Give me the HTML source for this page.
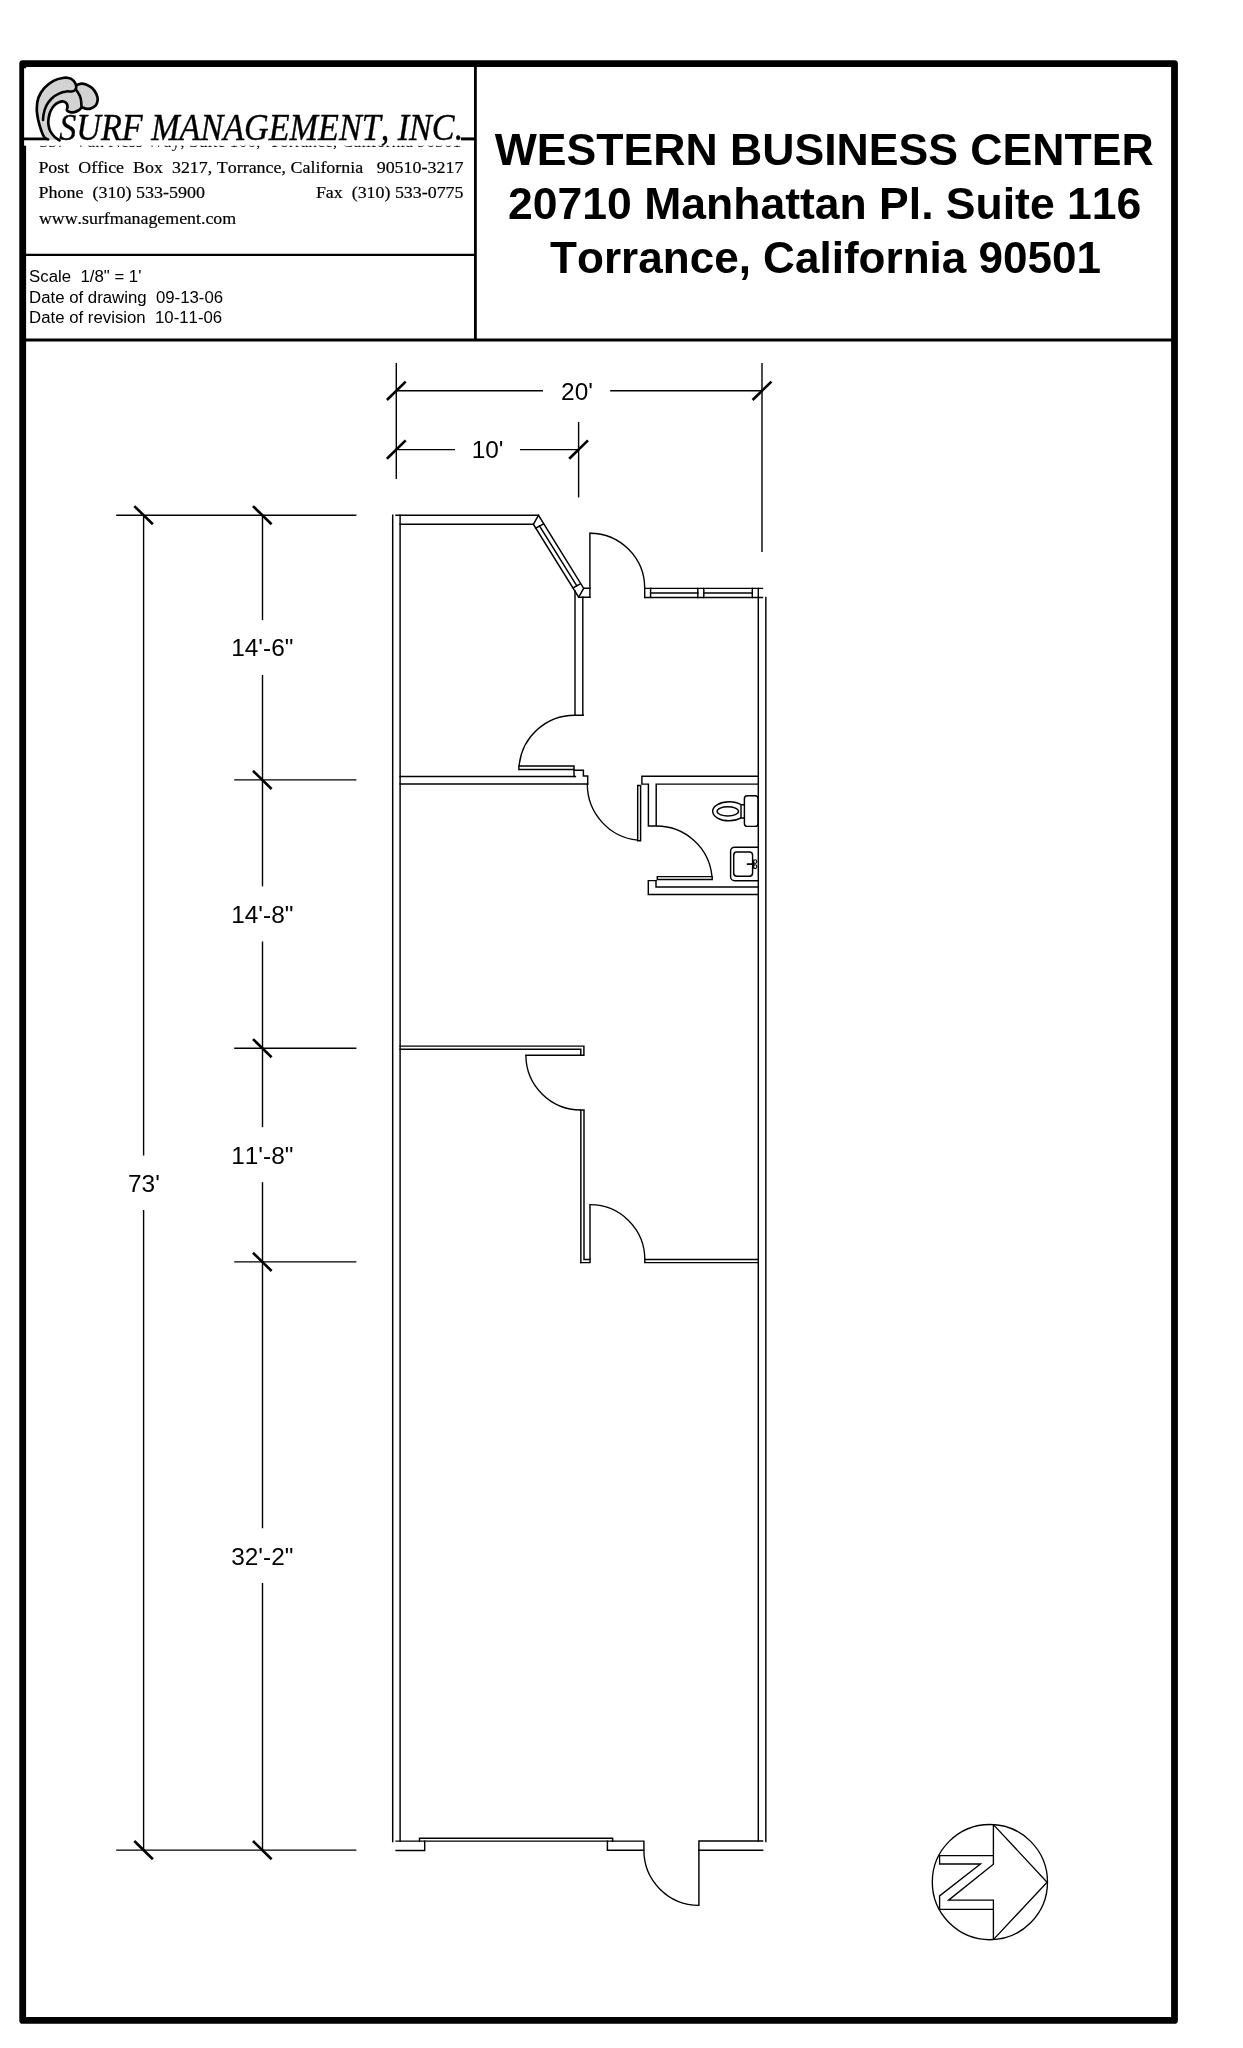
<!DOCTYPE html>
<html>
<head>
<meta charset="utf-8">
<title>Western Business Center - Suite 116</title>
<style>
html,body{margin:0;padding:0;background:#fff;}
body{width:1243px;height:2048px;overflow:hidden;font-family:"Liberation Sans",sans-serif;}
svg{display:block;position:absolute;left:0;top:0;will-change:transform;}
text{font-kerning:none;}
.sans{font-family:"Liberation Sans",sans-serif;fill:#000;}
.serif{font-family:"Liberation Serif",serif;fill:#000;}
.w{fill:none;stroke:#000;stroke-width:1.45;stroke-linecap:square;stroke-linejoin:miter;}
.a{fill:none;stroke:#000;stroke-width:1.35;stroke-linecap:butt;}
.f{fill:none;stroke:#000;stroke-width:1.45;stroke-linecap:butt;stroke-linejoin:round;}
.f2{fill:none;stroke:#000;stroke-width:1.7;stroke-linecap:round;}
.f3{fill:none;stroke:#000;stroke-width:1.1;}
.n{fill:none;stroke:#000;stroke-width:1.35;stroke-linejoin:miter;}
.d{fill:none;stroke:#000;stroke-width:1.4;stroke-linecap:butt;}
.t{fill:none;stroke:#000;stroke-width:2.6;stroke-linecap:butt;}
.dim{font-family:"Liberation Sans",sans-serif;font-size:24.4px;fill:#000;text-anchor:middle;}
</style>
</head>
<body>
<svg width="1243" height="2048" viewBox="0 0 1243 2048">
<rect x="0" y="0" width="1243" height="2048" fill="#fff"/>

<!-- ===== OUTER BORDER ===== -->
<rect x="22.7" y="63.6" width="1151.8" height="1956.8" fill="none" stroke="#000" stroke-width="6.8" stroke-linejoin="round"/>

<!-- ===== HEADER ===== -->
<g id="header">
<!-- clipped address line (hidden under logo image) -->
<text class="serif" x="39.4" y="147.4" font-size="16.5" xml:space="preserve" textLength="422" lengthAdjust="spacingAndGlyphs">357  Van Ness Way, Suite 100,  Torrance, California 90501</text>
<rect x="24.1" y="68.3" width="450" height="77.4" fill="#fff"/>
<!-- logo placeholder -->
<g id="logo">
<path d="M48.1 139.4C47.5 139.1 45.6 139.1 44.5 137.6C43.3 136.1 42.2 133.4 41.2 130.3C40.1 127.3 38.9 123.1 38.1 119.5C37.4 115.9 36.7 112.2 36.8 108.6C36.8 105.0 37.2 101.2 38.4 97.8C39.7 94.3 41.7 90.9 44.2 88.1C46.7 85.3 50.5 82.6 53.5 80.9C56.6 79.2 60.1 78.4 62.6 78.0C65.1 77.5 66.9 77.6 68.6 78.0C70.3 78.3 71.7 79.1 72.8 80.0C73.9 80.8 74.7 82.3 75.3 83.3C75.8 84.2 76.0 85.2 76.1 85.6C76.8 85.3 78.4 83.9 80.1 83.8C81.8 83.6 84.1 83.8 86.1 84.5C88.1 85.2 90.4 86.5 92.1 88.1C93.9 89.7 95.4 92.1 96.4 94.1C97.3 96.1 97.9 98.3 97.7 100.2C97.5 102.1 96.7 104.2 95.5 105.6C94.2 107.0 92.0 108.1 90.3 108.6C88.7 109.1 86.9 108.8 85.5 108.6C84.1 108.4 82.4 107.5 81.8 107.3C81.2 107.8 79.7 109.7 78.3 110.5C76.9 111.4 74.9 112.1 73.4 112.4C72.0 112.6 70.6 112.3 69.5 111.9C68.4 111.6 67.3 111.2 66.9 110.3C66.6 109.5 67.6 107.9 67.5 106.8C67.5 105.7 67.4 104.6 66.7 103.7C66.0 102.8 64.8 101.7 63.5 101.5C62.2 101.3 60.5 101.6 59.0 102.3C57.4 103.0 55.5 104.2 54.1 105.7C52.7 107.2 51.4 109.2 50.5 111.2C49.6 113.1 49.1 115.5 48.7 117.7C48.4 119.9 48.1 122.0 48.4 124.3C48.7 126.6 49.4 129.3 50.5 131.5C51.7 133.8 53.8 136.1 55.3 137.6C56.9 139.0 58.9 139.8 59.6 140.3Z" fill="#d3d3d3" stroke="none"/>
<path d="M48.1 139.4C47.5 139.1 45.6 139.1 44.5 137.6C43.3 136.1 42.2 133.4 41.2 130.3C40.1 127.3 38.9 123.1 38.1 119.5C37.4 115.9 36.7 112.2 36.8 108.6C36.8 105.0 37.2 101.2 38.4 97.8C39.7 94.3 41.7 90.9 44.2 88.1C46.7 85.3 50.5 82.6 53.5 80.9C56.6 79.2 60.1 78.4 62.6 78.0C65.1 77.5 66.9 77.6 68.6 78.0C70.3 78.3 71.7 79.1 72.8 80.0C73.9 80.8 74.7 82.3 75.3 83.3C75.8 84.2 76.0 85.2 76.1 85.6C76.8 85.3 78.4 83.9 80.1 83.8C81.8 83.6 84.1 83.8 86.1 84.5C88.1 85.2 90.4 86.5 92.1 88.1C93.9 89.7 95.4 92.1 96.4 94.1C97.3 96.1 97.9 98.3 97.7 100.2C97.5 102.1 96.7 104.2 95.5 105.6C94.2 107.0 92.0 108.1 90.3 108.6C88.7 109.1 86.9 108.8 85.5 108.6C84.1 108.4 82.4 107.5 81.8 107.3C81.2 107.8 79.7 109.7 78.3 110.5C76.9 111.4 74.9 112.1 73.4 112.4C72.0 112.6 70.6 112.3 69.5 111.9C68.4 111.6 67.3 111.2 66.9 110.3C66.6 109.5 67.6 107.9 67.5 106.8C67.5 105.7 67.4 104.6 66.7 103.7C66.0 102.8 64.8 101.7 63.5 101.5C62.2 101.3 60.5 101.6 59.0 102.3C57.4 103.0 55.5 104.2 54.1 105.7C52.7 107.2 51.4 109.2 50.5 111.2C49.6 113.1 49.1 115.5 48.7 117.7C48.4 119.9 48.1 122.0 48.4 124.3C48.7 126.6 49.4 129.3 50.5 131.5C51.7 133.8 53.8 136.1 55.3 137.6C56.9 139.0 58.9 139.8 59.6 140.3" fill="none" stroke="#000" stroke-width="2.7" stroke-linejoin="round" stroke-linecap="round"/>
<path d="M76.1 85.6C76.1 86.0 76.3 87.3 76.1 88.1C75.9 88.9 75.7 89.7 75.0 90.3C74.2 90.8 73.1 91.3 71.6 91.5C70.2 91.7 68.3 91.1 66.2 91.5C64.1 91.8 61.4 92.5 59.0 93.7C56.5 94.8 53.8 96.5 51.7 98.5C49.6 100.5 47.7 103.1 46.4 105.6C45.1 108.1 44.3 111.0 43.8 113.4C43.2 115.9 43.1 119.0 43.0 120.1" fill="none" stroke="#000" stroke-width="2.5" stroke-linecap="round" stroke-linejoin="round"/>
<path d="M75.7 89.2C76.1 89.7 77.0 90.9 77.7 92.0C78.3 93.2 79.2 94.6 79.8 95.9C80.3 97.3 80.8 98.7 81.0 100.2C81.3 101.7 81.3 103.8 81.4 105.0C81.5 106.2 81.7 106.9 81.8 107.3" fill="none" stroke="#000" stroke-width="2.6" stroke-linecap="round"/>
<line x1="24" y1="138.9" x2="46.5" y2="138.9" stroke="#000" stroke-width="2.8"/>
<line x1="461" y1="138.9" x2="475" y2="138.9" stroke="#000" stroke-width="3"/>
<text class="serif" x="59.2" y="139.8" font-size="37" font-style="italic" textLength="404" lengthAdjust="spacingAndGlyphs" stroke="#000" stroke-width="0.35">SURF MANAGEMENT, INC.</text>
</g>
<text class="serif" x="38.4" y="172.75" font-size="16.5" xml:space="preserve" textLength="425" lengthAdjust="spacingAndGlyphs" stroke="#000" stroke-width="0.2">Post  Office  Box  3217, Torrance, California   90510-3217</text>
<text class="serif" x="38.4" y="198.3" font-size="16.5" xml:space="preserve" textLength="166.5" lengthAdjust="spacingAndGlyphs" stroke="#000" stroke-width="0.2">Phone  (310) 533-5900</text>
<text class="serif" x="315.9" y="198.3" font-size="16.5" xml:space="preserve" textLength="147.6" lengthAdjust="spacingAndGlyphs" stroke="#000" stroke-width="0.2">Fax  (310) 533-0775</text>
<text class="serif" x="38.9" y="224.2" font-size="16.5" textLength="197.3" lengthAdjust="spacingAndGlyphs" stroke="#000" stroke-width="0.2">www.surfmanagement.com</text>

<text class="sans" x="29.1" y="282.4" font-size="15.6" xml:space="preserve" textLength="112.3" lengthAdjust="spacingAndGlyphs">Scale  1/8" = 1'</text>
<text class="sans" x="29.1" y="302.8" font-size="15.6" xml:space="preserve" textLength="194" lengthAdjust="spacingAndGlyphs">Date of drawing  09-13-06</text>
<text class="sans" x="29.1" y="323.1" font-size="15.6" xml:space="preserve" textLength="193.1" lengthAdjust="spacingAndGlyphs">Date of revision  10-11-06</text>

<text class="sans" x="824.2" y="164.6" font-size="44.5" font-weight="bold" text-anchor="middle" textLength="658.8" lengthAdjust="spacingAndGlyphs">WESTERN BUSINESS CENTER</text>
<text class="sans" x="824.7" y="219.3" font-size="44.5" font-weight="bold" text-anchor="middle">20710 Manhattan Pl. Suite 116</text>
<text class="sans" x="825.6" y="273.3" font-size="44.5" font-weight="bold" text-anchor="middle" textLength="551" lengthAdjust="spacingAndGlyphs">Torrance, California 90501</text>

<line x1="475.4" y1="66" x2="475.4" y2="340" stroke="#000" stroke-width="2.8"/>
<line x1="24" y1="254.9" x2="475.4" y2="254.9" stroke="#000" stroke-width="2.3"/>
<line x1="24" y1="340" x2="1172" y2="340" stroke="#000" stroke-width="3.2"/>
</g>


<!-- ===== DIMENSIONS ===== -->
<g id="dims">
<line class="d" x1="396.3" y1="363" x2="396.3" y2="479"/>
<line class="d" x1="578.6" y1="422" x2="578.6" y2="497.4"/>
<line class="d" x1="762" y1="363" x2="762" y2="552"/>
<line class="d" x1="396.3" y1="390.8" x2="543" y2="390.8"/>
<line class="d" x1="610.2" y1="390.8" x2="762" y2="390.8"/>
<line class="d" x1="396.3" y1="449.6" x2="455" y2="449.6"/>
<line class="d" x1="520" y1="449.6" x2="578.6" y2="449.6"/>
<line class="t" x1="386.9" y1="400.0" x2="405.7" y2="381.6"/>
<line class="t" x1="752.6" y1="400.0" x2="771.4" y2="381.6"/>
<line class="t" x1="386.9" y1="458.8" x2="405.7" y2="440.4"/>
<line class="t" x1="569.2" y1="458.8" x2="588.0" y2="440.4"/>
<text class="dim" x="577" y="399.5">20'</text>
<text class="dim" x="487.6" y="458.1">10'</text>
<line class="d" x1="116.2" y1="515.2" x2="356.4" y2="515.2"/>
<line class="d" x1="116.2" y1="1850.1" x2="356.4" y2="1850.1"/>
<line class="d" x1="234.2" y1="779.9" x2="356.4" y2="779.9"/>
<line class="d" x1="234.2" y1="1048.2" x2="356.4" y2="1048.2"/>
<line class="d" x1="234.2" y1="1261.9" x2="356.4" y2="1261.9"/>
<line class="d" x1="143.6" y1="515.2" x2="143.6" y2="1155.4"/>
<line class="d" x1="143.6" y1="1210" x2="143.6" y2="1850.1"/>
<line class="d" x1="262.5" y1="515.2" x2="262.5" y2="620.2"/>
<line class="d" x1="262.5" y1="675" x2="262.5" y2="779.9"/>
<line class="d" x1="262.5" y1="779.9" x2="262.5" y2="886.4"/>
<line class="d" x1="262.5" y1="941.5" x2="262.5" y2="1048.2"/>
<line class="d" x1="262.5" y1="1048.2" x2="262.5" y2="1127.2"/>
<line class="d" x1="262.5" y1="1182.1" x2="262.5" y2="1261.9"/>
<line class="d" x1="262.5" y1="1261.9" x2="262.5" y2="1528.2"/>
<line class="d" x1="262.5" y1="1583" x2="262.5" y2="1850.1"/>
<line class="t" x1="134.3" y1="506.1" x2="152.9" y2="524.3"/>
<line class="t" x1="253.0" y1="506.1" x2="271.6" y2="524.3"/>
<line class="t" x1="253.0" y1="770.8" x2="271.6" y2="789.0"/>
<line class="t" x1="253.0" y1="1039.1" x2="271.6" y2="1057.3"/>
<line class="t" x1="253.0" y1="1252.8" x2="271.6" y2="1271.0"/>
<line class="t" x1="134.3" y1="1841.0" x2="152.9" y2="1859.2"/>
<line class="t" x1="253.0" y1="1841.0" x2="271.6" y2="1859.2"/>
<text class="dim" x="262.3" y="656.1">14'-6"</text>
<text class="dim" x="262.3" y="922.8">14'-8"</text>
<text class="dim" x="262.3" y="1163.6">11'-8"</text>
<text class="dim" x="262.3" y="1564.8">32'-2"</text>
<text class="dim" x="143.9" y="1191.5">73'</text>
</g>

<!-- ===== PLAN ===== -->
<g id="plan">
<path class="w" d="M392.7 515.3V1841.5"/>
<path class="w" d="M400.1 515.3V1841.1"/>
<path class="w" d="M396 515.3H538.5L583.65 588.3H589.9"/>
<path class="w" d="M400.1 524.3H533.4L578.7 597.2H589.9"/>
<path class="w" d="M538.5 515.3L533.4 524.3"/>
<path class="w" d="M583.65 588.3L578.7 597.2"/>
<path class="w" d="M535.6 528.2L543.5 524.0"/>
<path class="w" d="M573.5 587.7L580.1 584.0"/>
<path class="w" d="M539.5 526.0L576.6 585.6"/>
<path class="w" d="M575 591V715.3H583.2"/>
<path class="w" d="M582.8 597.2V715.3"/>
<path class="w" d="M589.9 597.3V533.2"/>
<path class="a" d="M589.9 533.2A54.9 54.9 0 0 1 644.7 588.0"/>
<path class="w" d="M644.7 588.35H762.5"/>
<path class="w" d="M644.7 597.4H762.5"/>
<path class="w" d="M644.7 588.35V597.4"/>
<path class="w" d="M650.6 588.35V597.4"/>
<path class="w" d="M697.8 588.35V597.4"/>
<path class="w" d="M703.8 588.35V597.4"/>
<path class="w" d="M752.3 588.35V597.4"/>
<path class="w" d="M650.6 592.9H697.8"/>
<path class="w" d="M703.8 592.9H752.3"/>
<path class="w" d="M758.3 588.35V1840.9"/>
<path class="w" d="M765.85 597.4V1841.4"/>
<path class="a" d="M574.7 715.3A55.8 55.8 0 0 0 519.1 766"/>
<path class="w" d="M518.9 766H574V769.4H518.9Z"/>
<path class="w" d="M574 769.4V776.5"/>
<path class="w" d="M574 770.2H583.4V775.9H587.7V784"/>
<path class="w" d="M400.1 776.5H575.4"/>
<path class="w" d="M400.1 783.9H587.7"/>
<path class="a" d="M587.3 784.1A56.3 56.3 0 0 0 637.7 840.2"/>
<path class="w" d="M637.7 785.5H640.6V840.7H637.7Z"/>
<path class="w" d="M758.3 776.3H641.9V784.1H648.4V826H656.2V784.1H758.3"/>
<path class="a" d="M656.4 826A55.7 55.7 0 0 1 712.0 876.6"/>
<path class="w" d="M657.3 876.6H712.2V879.4H657.3Z"/>
<path class="w" d="M758.3 894.5H648.3V880.6H656"/>
<path class="w" d="M656 880.6V886.9H758.3"/>
<path class="w" d="M400.1 1046.1H583.9V1055.3H525.9"/>
<path class="w" d="M400.1 1049.3H580.8V1055.3"/>
<path class="a" d="M525.9 1055.3A54.9 54.9 0 0 0 580.8 1110"/>
<path class="w" d="M580.85 1262.6V1110H584V1259.4H590V1204.7"/>
<path class="w" d="M580.85 1262.6H590V1259.4"/>
<path class="a" d="M590 1204.7A54.7 54.7 0 0 1 644.8 1259.4"/>
<path class="w" d="M758.3 1259.4H644.8V1262.6H758.3"/>
<path class="w" d="M396.1 1841.1H612.6"/>
<path class="w" d="M396.1 1850.4H424.7V1841.1"/>
<path class="w" d="M419.5 1841.1V1838.2H612.6V1841.1"/>
<path class="w" d="M607.4 1841.1V1850.3H643.9V1841.1H612.6"/>
<path class="a" d="M643.9 1850.3A55 55 0 0 0 698.9 1905.3"/>
<path class="w" d="M698.9 1905.3V1840.9H762.6"/>
<path class="w" d="M698.9 1850.2H762.6"/>
<rect class="f" x="744.4" y="795.8" width="13.7" height="30.6" rx="3" ry="3"/>
<path class="f" d="M741 804.7A16.5 9.5 0 1 0 741 817.9"/>
<path class="f" d="M741 804.7H744.4M741 817.9H744.4M741 804.7V817.9"/>
<ellipse class="f" cx="727.8" cy="811.35" rx="10.7" ry="4.65"/>
<path class="f" d="M758.1 847.2H734.6A4 4 0 0 0 730.6 851.2V876.7A4 4 0 0 0 734.6 880.7H758.1"/>
<rect class="f" x="733.7" y="852" width="18.9" height="24.2" rx="3.2" ry="3.2"/>
<path class="f2" d="M747.5 864.1H754M753.1 860.5V867.8"/>
<ellipse class="f3" cx="755.2" cy="861.6" rx="1.5" ry="1.9"/>
<ellipse class="f3" cx="755.2" cy="866.7" rx="1.5" ry="1.9"/>
</g>

<!-- ===== NORTH ARROW ===== -->
<g id="north">
<circle class="n" cx="989.9" cy="1882.1" r="57.6"/>
<path class="n" d="M993.4 1824.6L1047.1 1882.3L993.4 1939.6"/>
<path class="n" d="M993.4 1824.6V1864.3L948.6 1900.1H993.4V1939.6"/>
<path class="n" d="M993.4 1855.6H939.6V1864H980.5L939.6 1895.9V1909.4H993.4"/>
</g>
</svg>
</body>
</html>
